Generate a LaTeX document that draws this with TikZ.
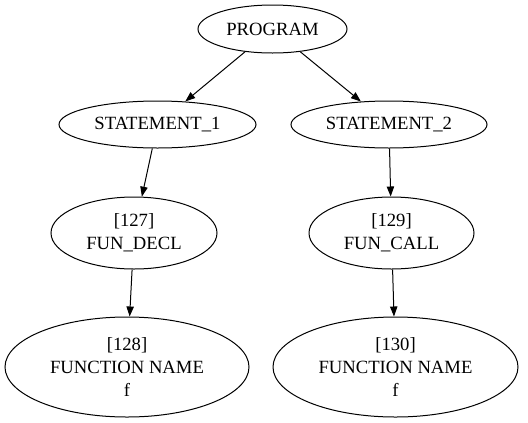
\documentclass[tikz,border=0pt]{standalone}
\usepackage{fontspec}
\setmainfont{Liberation Serif}
\usetikzlibrary{arrows.meta, shapes.geometric}

\tikzset{
  astnode/.style={draw, ellipse, inner sep=0pt, line width=0.75pt, align=center,
    font=\fontsize{14}{17}\selectfont},
  astedge/.style={line width=0.75pt, -{Triangle[length=7.5pt,width=5.5pt]}}
}

\begin{document}
\begin{tikzpicture}[x=0.75pt, y=-0.75pt]
  \useasboundingbox (0,0) rectangle (528,422);
  \node[astnode, minimum width=111.75pt, minimum height=36pt] (prog) at (272.5,29) {PROGRAM};
  \node[astnode, minimum width=147.75pt, minimum height=35.25pt] (st1) at (157.5,124.5) {STATEMENT\_1};
  \node[astnode, minimum width=147pt, minimum height=35.25pt] (st2) at (389,124.5) {STATEMENT\_2};
  \node[astnode, minimum width=124.5pt, minimum height=54pt] (decl) at (134,233) {[127]\\FUN\_DECL};
  \node[astnode, minimum width=123.75pt, minimum height=54pt] (call) at (391.5,233) {[129]\\FUN\_CALL};
  \node[astnode, minimum width=183pt, minimum height=75pt] (name1) at (127,367) {[128]\\FUNCTION NAME\\f};
  \node[astnode, minimum width=183.75pt, minimum height=75pt] (name2) at (395.5,367) {[130]\\FUNCTION NAME\\f};
  \draw[astedge] (prog) -- (st1);
  \draw[astedge] (prog) -- (st2);
  \draw[astedge] (st1) -- (decl);
  \draw[astedge] (st2) -- (call);
  \draw[astedge] (decl) -- (name1);
  \draw[astedge] (call) -- (name2);
\end{tikzpicture}
\end{document}
